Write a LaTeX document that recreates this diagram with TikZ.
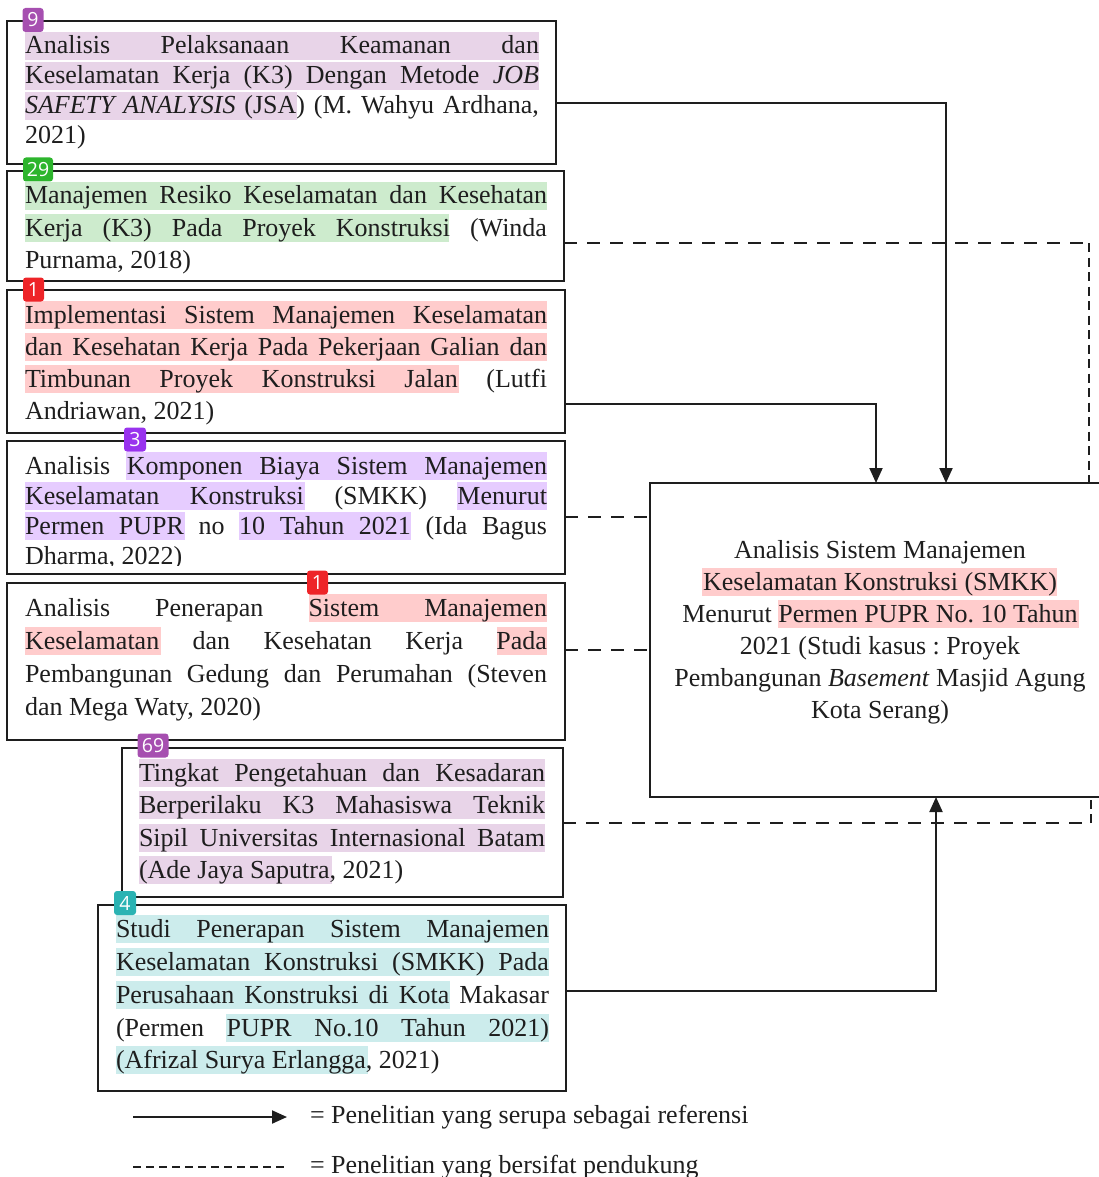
\documentclass[tikz,border=0pt]{standalone}
\usepackage{fontspec}
\setmainfont{Liberation Serif}
\newfontfamily\badgefont{Open Sans}
\usetikzlibrary{arrows.meta,calc}
\definecolor{hpurple}{HTML}{E8D4E8}
\definecolor{hgreen}{HTML}{CDEBCD}
\definecolor{hred}{HTML}{FFCCCC}
\definecolor{hviolet}{HTML}{E6CCFF}
\definecolor{hteal}{HTML}{CCECEC}
\definecolor{bpurple}{HTML}{A64FB0}
\definecolor{bgreen}{HTML}{2DB52D}
\definecolor{bred}{HTML}{EE2428}
\definecolor{bviolet}{HTML}{9933EE}
\definecolor{bteal}{HTML}{2BB3B3}
\definecolor{ink}{HTML}{1E1E1E}
\newcommand\fs{\fontsize{26}{32}\selectfont}
\newcommand\bfs{\badgefont\fontsize{19.5}{20}\selectfont}
\newcommand\jline[2]{\hbox to #1pt{#2}}
\newcommand\hlrect[4]{\fill[#1] (#2,#4-22) rectangle (#3,#4+6);}
\frenchspacing
\begin{document}
\begin{tikzpicture}[x=1pt,y=-1pt,
  box/.style={draw=ink, line width=2pt, rectangle, inner sep=0pt, outer sep=0pt},
  ln/.style={anchor=base west, inner sep=0pt, outer sep=0pt, font=\fs, text=ink},
  cl/.style={anchor=base, inner sep=0pt, outer sep=0pt, font=\fs, text=ink},
  badge/.style={rounded corners=3pt, inner sep=0pt, outer sep=0pt, minimum height=24pt, text=white, font=\bfs},
  conn/.style={line width=2pt, draw=ink},
  arr/.style={-{Triangle[length=15pt,width=13pt]}},
  dh/.style={dash pattern=on 13pt off 10pt},
  dv/.style={dash pattern=on 9pt off 5.5pt}]
\useasboundingbox (0,0) rectangle (1099,1177);

% ---------- highlights ----------
\hlrect{hpurple}{25}{539}{54}
\hlrect{hpurple}{25}{539}{84}
\hlrect{hpurple}{25}{297}{114}
\hlrect{hgreen}{25}{547}{204}
\hlrect{hgreen}{25}{449}{236}
\hlrect{hred}{25}{547}{323}
\hlrect{hred}{25}{547}{355}
\hlrect{hred}{25}{459}{387}
\hlrect{hviolet}{126}{547}{474}
\hlrect{hviolet}{25}{305}{504}
\hlrect{hviolet}{457}{547}{504}
\hlrect{hviolet}{25}{185}{534}
\hlrect{hviolet}{239}{411}{534}
\hlrect{hred}{309}{547}{616}
\hlrect{hred}{25}{161}{649}
\hlrect{hred}{497}{547}{649}
\hlrect{hpurple}{139}{545}{781}
\hlrect{hpurple}{139}{545}{813}
\hlrect{hpurple}{139}{545}{846}
\hlrect{hpurple}{139}{332}{878}
\hlrect{hteal}{116}{549}{937}
\hlrect{hteal}{116}{549}{970}
\hlrect{hteal}{116}{450}{1003}
\hlrect{hteal}{226}{549}{1036}
\hlrect{hteal}{116}{368}{1068}
\hlrect{hred}{702}{1057}{590}
\hlrect{hred}{778}{1079}{622}

% ---------- boxes ----------
\node[box, minimum width=549pt, minimum height=143pt] (b1) at (281.5,92.5) {};
\node[box, minimum width=557pt, minimum height=110pt] (b2) at (285.5,226) {};
\node[box, minimum width=558pt, minimum height=143pt] (b3) at (286,361.5) {};
\node[box, minimum width=558pt, minimum height=133pt] (b4) at (286,507.5) {};
\node[box, minimum width=558pt, minimum height=157pt] (b5) at (286,661.5) {};
\node[box, minimum width=441pt, minimum height=149pt] (b6) at (342.5,822.5) {};
\node[box, minimum width=468pt, minimum height=186pt] (b7) at (332,998) {};
\node[box, minimum width=452pt, minimum height=314pt] (main) at (876,640) {};

% ---------- box texts ----------
\node[ln] (t1a) at (25,54) {\jline{514}{Analisis Pelaksanaan Keamanan dan}};
\node[ln] (t1b) at (25,84) {\jline{514}{Keselamatan Kerja (K3) Dengan Metode \textit{JOB}}};
\node[ln] (t1c) at (25,114) {\jline{514}{\textit{SAFETY ANALYSIS} (JSA) (M. Wahyu Ardhana,}};
\node[ln] (t1d) at (25,144) {2021)};

\node[ln] (t2a) at (25,204) {\jline{522}{Manajemen Resiko Keselamatan dan Kesehatan}};
\node[ln] (t2b) at (25,236) {\jline{522}{Kerja (K3) Pada Proyek Konstruksi (Winda}};
\node[ln] (t2c) at (25,268) {Purnama, 2018)};

\node[ln] (t3a) at (25,323) {\jline{522}{Implementasi Sistem Manajemen Keselamatan}};
\node[ln] (t3b) at (25,355) {\jline{522}{dan Kesehatan Kerja Pada Pekerjaan Galian dan}};
\node[ln] (t3c) at (25,387) {\jline{522}{Timbunan Proyek Konstruksi Jalan (Lutfi}};
\node[ln] (t3d) at (25,419) {Andriawan, 2021)};

\node[ln] (t4a) at (25,474) {\jline{522}{Analisis Komponen Biaya Sistem Manajemen}};
\node[ln] (t4b) at (25,504) {\jline{522}{Keselamatan Konstruksi (SMKK) Menurut}};
\node[ln] (t4c) at (25,534) {\jline{522}{Permen PUPR no 10 Tahun 2021 (Ida Bagus}};
\begin{scope}
\clip (8,540) rectangle (560,565.5);
\node[ln] (t4d) at (25,564) {Dharma, 2022)};
\end{scope}

\node[ln] (t5a) at (25,616) {\jline{522}{Analisis Penerapan Sistem Manajemen}};
\node[ln] (t5b) at (25,649) {\jline{522}{Keselamatan dan Kesehatan Kerja Pada}};
\node[ln] (t5c) at (25,682) {\jline{522}{Pembangunan Gedung dan Perumahan (Steven}};
\node[ln] (t5d) at (25,715) {dan Mega Waty, 2020)};

\node[ln] (t6a) at (139,781) {\jline{406}{Tingkat Pengetahuan dan Kesadaran}};
\node[ln] (t6b) at (139,813) {\jline{406}{Berperilaku K3 Mahasiswa Teknik}};
\node[ln] (t6c) at (139,846) {\jline{406}{Sipil Universitas Internasional Batam}};
\node[ln] (t6d) at (139,878) {(Ade Jaya Saputra, 2021)};

\node[ln] (t7a) at (116,937) {\jline{433}{Studi Penerapan Sistem Manajemen}};
\node[ln] (t7b) at (116,970) {\jline{433}{Keselamatan Konstruksi (SMKK) Pada}};
\node[ln] (t7c) at (116,1003) {\jline{433}{Perusahaan Konstruksi di Kota Makasar}};
\node[ln] (t7d) at (116,1036) {\jline{433}{(Permen PUPR No.10 Tahun 2021)}};
\node[ln] (t7e) at (116,1068) {(Afrizal Surya Erlangga, 2021)};

\node[cl] (m1) at (880,558) {Analisis Sistem Manajemen};
\node[cl] (m2) at (880,590) {Keselamatan Konstruksi (SMKK)};
\node[cl] (m3) at (880,622) {Menurut Permen PUPR No. 10 Tahun};
\node[cl] (m4) at (880,654) {2021 (Studi kasus : Proyek};
\node[cl] (m5) at (880,686) {Pembangunan \textit{Basement} Masjid Agung};
\node[cl] (m6) at (880,718) {Kota Serang)};

% ---------- connectors ----------
\coordinate (k1) at (946,103);
\coordinate (k2) at (1089,243);
\coordinate (k3) at (876,404);
\coordinate (k4) at (600,517);
\coordinate (k5) at (600,650);
\coordinate (k6) at (1091,823);
\coordinate (k7) at (936,991);
\draw[conn,arr] (b1.east |- k1) -| (main.north -| k1);
\draw[conn,dh] (b2.east |- k2) -- (k2);
\draw[conn,dv] (k2) -- (main.north -| k2);
\draw[conn,arr] (b3.east |- k3) -| (main.north -| k3);
\draw[conn,dh] (b4.east |- k4) -- (main.west |- k4);
\draw[conn,dh] (b5.east |- k5) -- (main.west |- k5);
\draw[conn,dh] (b6.east |- k6) -- (k6);
\draw[conn,dv] (k6) -- (main.south -| k6);
\draw[conn,arr] (b7.east |- k7) -| (main.south -| k7);

% ---------- badges ----------
\node[badge, fill=bpurple, minimum width=21pt] (n9) at (33,20) {9};
\node[badge, fill=bgreen, minimum width=30pt] (n29) at (38,169.5) {29};
\node[badge, fill=bred, minimum width=21pt] (n1a) at (33.5,289.5) {1};
\node[badge, fill=bviolet, minimum width=22pt] (n3) at (135,439.5) {3};
\node[badge, fill=bred, minimum width=21pt] (n1b) at (317.5,582.5) {1};
\node[badge, fill=bpurple, minimum width=31pt] (n69) at (153,745.5) {69};
\node[badge, fill=bteal, minimum width=22pt] (n4) at (125,903) {4};

% ---------- legend ----------
\coordinate (la1) at (133,1117);
\coordinate (la2) at (287,1117);
\coordinate (ld1) at (133,1167);
\coordinate (ld2) at (287,1167);
\draw[conn,arr] (la1) -- (la2);
\draw[conn,dash pattern=on 8pt off 5pt] (ld1) -- (ld2);
\node[ln] (lg1) at (310,1123) {= Penelitian yang serupa sebagai referensi};
\node[ln] (lg2) at (310,1173) {= Penelitian yang bersifat pendukung};
\end{tikzpicture}
\end{document}
